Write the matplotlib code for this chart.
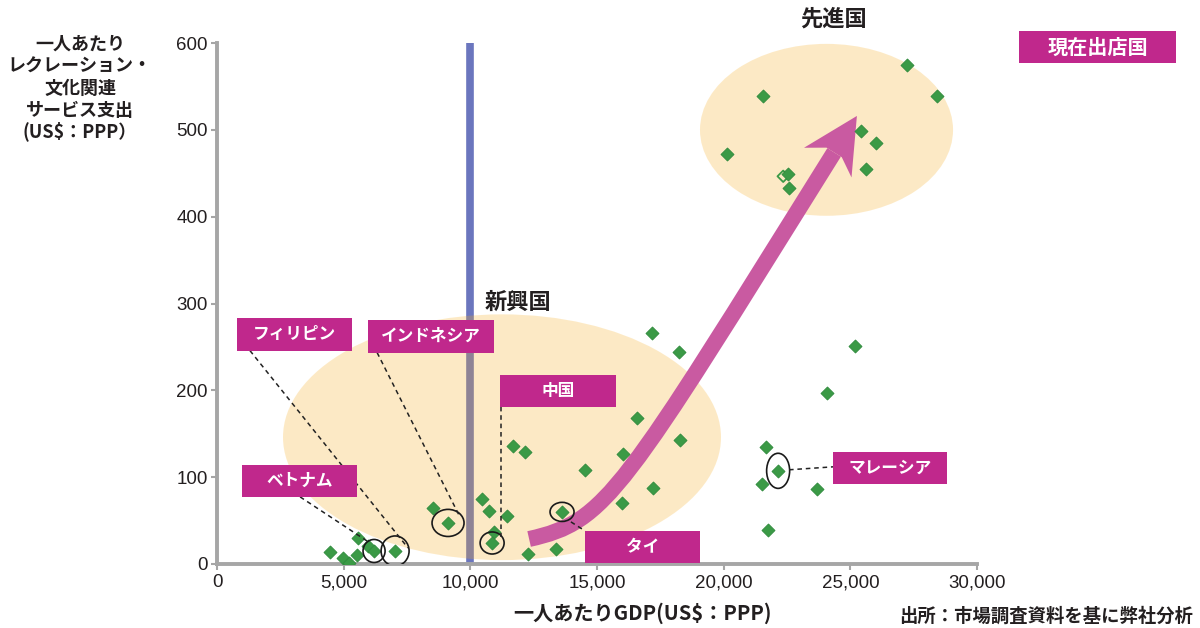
import numpy as np
import matplotlib
matplotlib.use("Agg")
import matplotlib.pyplot as plt
from matplotlib.patches import Ellipse, Rectangle, Polygon, PathPatch
from matplotlib.path import Path
from matplotlib.ticker import FuncFormatter
from matplotlib import font_manager

# per-capita GDP (US$ PPP) vs per-capita recreation / culture spending (US$ PPP)
gdp = [4460, 4970, 5210, 5570, 5530, 5960, 8530, 10460, 10740, 11450, 10940,
       12280, 13380, 11690, 12160, 14530, 16030, 15990, 16580, 17210, 18280,
       17170, 18240, 21670, 21520, 23690, 21750, 24080, 25190,
       27240, 28430, 21560, 20130, 25420, 26020, 25620, 22540, 22580]
spend = [13.8, 6.9, 1.2, 30, 10.4, 20.8, 64.6, 75, 61, 55.4, 37,
         11.5, 17.3, 136, 129, 108.5, 127, 70.4, 168.5, 87.7, 143,
         266.5, 244.6, 135, 92.3, 86.5, 39.2, 197.3, 251.5,
         574.6, 538.8, 538.8, 471.9, 498.4, 484.6, 454.6, 448.8, 432.7]
hollow_gdp = [22350]
hollow_spend = [446.5]

# countries with a store (highlighted)
hl_names = ["ベトナム", "フィリピン", "インドネシア", "中国", "タイ", "マレーシア"]
hl_gdp = [6200, 7030, 9120, 10860, 13620, 22150]
hl_spend = [15, 15, 47.3, 24.2, 60, 107.3]

x_ticks = [0, 5000, 10000, 15000, 20000, 25000, 30000]
y_ticks = [0, 100, 200, 300, 400, 500, 600]
ylabel_lines = ["一人あたり", "レクレーション・", "文化関連", "サービス支出", "(US$：PPP）"]

jp = ["Noto Sans CJK JP", "DejaVu Sans"]
names = {f.name for f in font_manager.fontManager.ttflist}
narrow = "Liberation Sans Narrow" if "Liberation Sans Narrow" in names else "Liberation Sans"

green = "#3b9a46"
magenta = "#c0288c"
arrow_c = "#c95aa1"
dark = "#231f20"
axis_c = "#a6a6a6"

W, H = 1200, 628
fig = plt.figure(figsize=(W / 100, H / 100), dpi=100)
ax = fig.add_axes([217 / W, 64 / H, 760 / W, 521 / H])
ax.set_xlim(0, 30000)
ax.set_ylim(0, 600)


def px(x, y):
    return x / W, 1 - y / H


# axes styling
for s in ["top", "right"]:
    ax.spines[s].set_visible(False)
for s in ["left", "bottom"]:
    ax.spines[s].set_color(axis_c)
    ax.spines[s].set_linewidth(2.8)
ax.set_xticks(x_ticks)
ax.set_yticks(y_ticks)
ax.xaxis.set_major_formatter(FuncFormatter(lambda v, p: f"{int(v):,}"))
ax.tick_params(direction="out", length=4, width=1.5, color=axis_c,
               labelsize=13.5, labelcolor=dark)
ax.tick_params(axis="x", pad=3.5)
ax.tick_params(axis="y", pad=2.5)
for lbl in ax.get_xticklabels():
    lbl.set_fontfamily(narrow)
for lbl in ax.get_yticklabels():
    lbl.set_fontfamily("Liberation Sans")

# 10,000 boundary line
ax.axvline(10000, color="#6b76be", lw=5.5, zorder=1)

# group ellipses
ax.add_patch(Ellipse((11250, 146), 17290, 283, fc="#f7ab1b", ec="none", alpha=0.25, zorder=2))
ax.add_patch(Ellipse((24060, 500), 9990, 198, fc="#f7ab1b", ec="none", alpha=0.25, zorder=2))

# curved arrow (shaft as cubic bezier, head in screen space)
P0 = np.array([12320, 28.8])
P1 = np.array([15400, 48.5])
P2 = np.array([15990, 83.0])
P3 = np.array([24360, 474.0])
shaft = Path([P0, P1, P2, P3], [Path.MOVETO, Path.CURVE4, Path.CURVE4, Path.CURVE4])
ax.add_patch(PathPatch(shaft, fc="none", ec=arrow_c, lw=11.5, capstyle="butt", zorder=3))
d2, d3 = ax.transData.transform([P2, P3])
u = (d3 - d2) / np.linalg.norm(d3 - d2)
n = np.array([-u[1], u[0]])
head = [d3 + n * 9, d3 - u * 12 + n * 28, d3 + u * 43, d3 - u * 12 - n * 28, d3 - n * 9]
head = ax.transData.inverted().transform(head)
ax.add_patch(Polygon(head, closed=True, fc=arrow_c, ec="none", zorder=3))

# points
ax.scatter(hollow_gdp, hollow_spend, marker="D", s=34, facecolors="none",
           edgecolors=green, linewidths=1.3, zorder=3.9)
ax.scatter(gdp + hl_gdp, spend + hl_spend, marker="D", s=44, c=green,
           edgecolors="#2f8a3c", linewidths=0.6, zorder=4)

# circles around store countries
circle_sizes = [(870, 26.5), (1105, 34.6), (1263, 31.2), (947, 25.4), (947, 22), (908, 40.4)]
for gx, sy, (cw, ch) in zip(hl_gdp, hl_spend, circle_sizes):
    ax.add_patch(Ellipse((gx, sy), cw, ch, fc="none", ec="#1a1a1a", lw=1.2, zorder=5))

# label boxes: (center x, center y, width, height)
box_pos = {
    "ベトナム": (3260, 95.8, 4540, 37),
    "フィリピン": (3060, 264.8, 4540, 38),
    "インドネシア": (8450, 262.5, 4970, 38),
    "中国": (13460, 199.6, 4580, 37),
    "タイ": (16800, 19.6, 4540, 37),
    "マレーシア": (26570, 110.8, 4500, 37),
}
leaders = {
    "ベトナム": ((3280, 77.3), (6040, 24.2)),
    "フィリピン": ((1300, 245.8), (7540, 18.5)),
    "インドネシア": ((6320, 243.5), (9590, 54.2)),
    "中国": ((11210, 200.8), (11210, 31.2)),
    "タイ": ((13970, 48.5), (14530, 38.1)),
    "マレーシア": ((22580, 108.5), (24320, 111.9)),
}


def label_box(cx, cy, w, h, text, size=12):
    ax.add_patch(Rectangle((cx - w / 2, cy - h / 2), w, h, fc=magenta, ec="none",
                           zorder=7, clip_on=False))
    ax.text(cx, cy, text, ha="center", va="center", color="white", fontsize=size,
            fontweight="bold", family=jp, zorder=8, clip_on=False)


for name in hl_names:
    (x0, y0), (x1, y1) = leaders[name]
    ax.plot([x0, x1], [y0, y1], ls=(0, (3, 2.5)), color="#222222", lw=1.1, zorder=6)
    label_box(*box_pos[name], name)

label_box(34760, 595.4, 6200, 37, "現在出店国", size=14.5)

# titles / axis texts
fig.text(*px(833, 19), "先進国", ha="center", va="center", fontsize=16,
         fontweight="bold", family=jp, color=dark)
fig.text(*px(518, 302), "新興国", ha="center", va="center", fontsize=16,
         fontweight="bold", family=jp, color=dark)
for line, yy in zip(ylabel_lines, [44, 66, 88, 110, 131]):
    fig.text(*px(80, yy), line, ha="center", va="center", fontsize=13,
             fontweight="bold", family=jp, color=dark)
fig.text(*px(642, 613), "一人あたりGDP(US$：PPP)", ha="center", va="center",
         fontsize=14.5, fontweight="bold", family=jp, color=dark)
fig.text(*px(1046, 616), "出所：市場調査資料を基に弊社分析", ha="center", va="center",
         fontsize=13.2, fontweight="bold", family=jp, color=dark)

fig.savefig("out.png", dpi=100)
